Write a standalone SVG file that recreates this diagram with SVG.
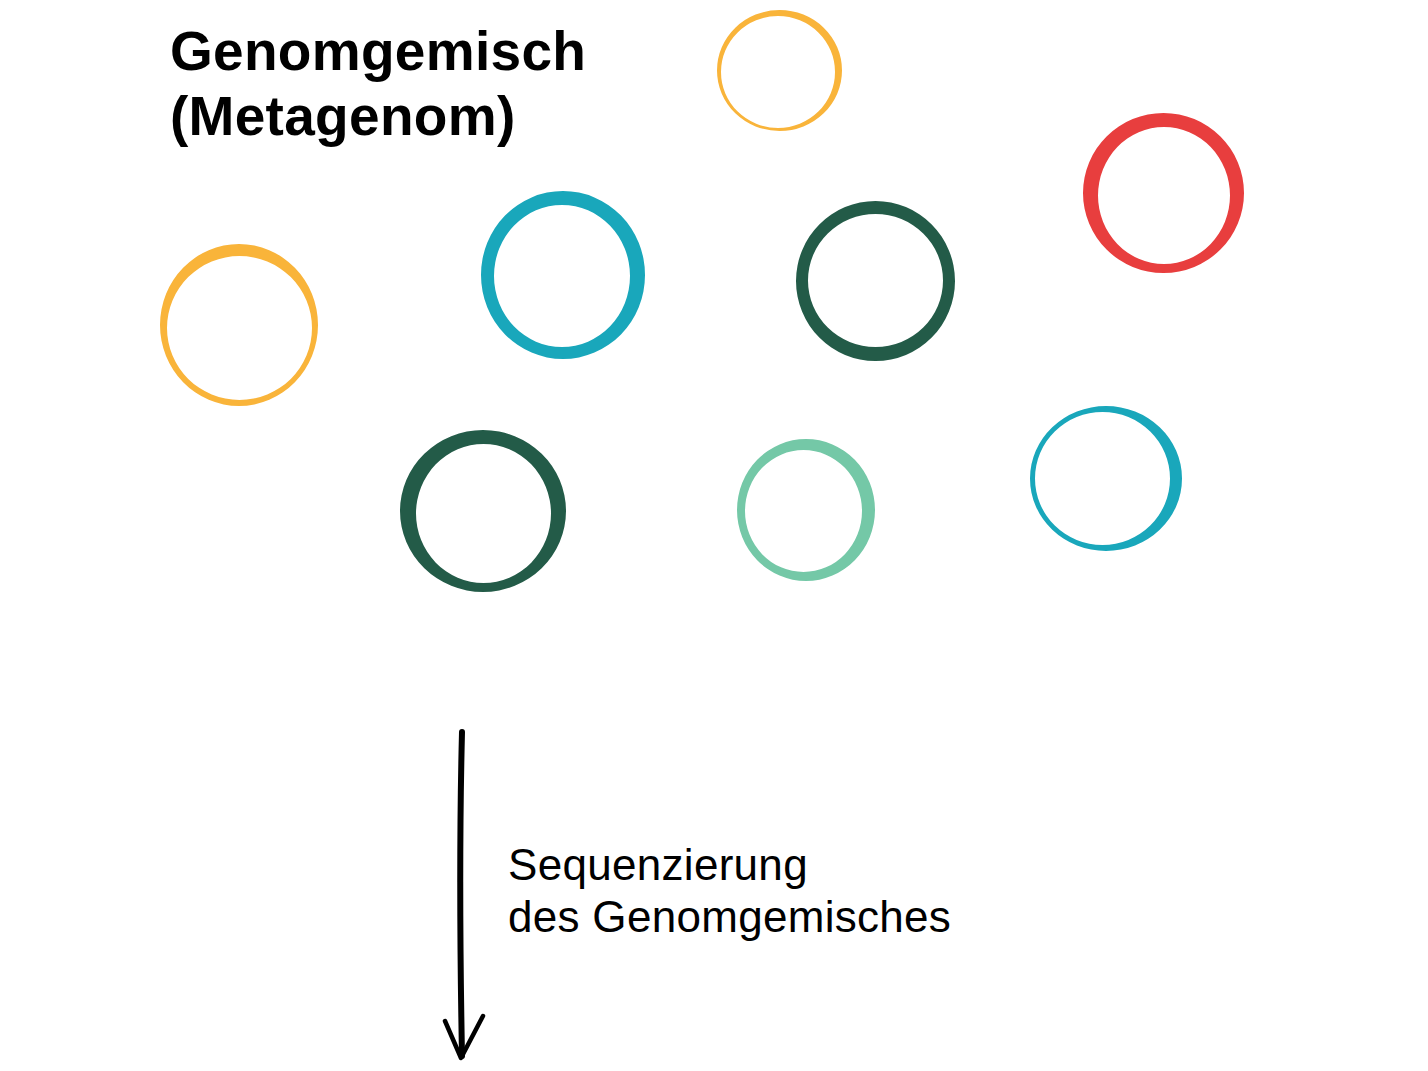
<svg xmlns="http://www.w3.org/2000/svg" width="1428" height="1071" viewBox="0 0 1428 1071">
<style>
.ring{fill-rule:evenodd;stroke:none}
.yellow{fill:#F9B43A}.red{fill:#E83E3E}.teal{fill:#19A7BB}.dark{fill:#235B48}.light{fill:#74C8A7}
.title{font-family:"Liberation Sans",Arial,sans-serif;font-weight:bold;font-size:55px;fill:#000;letter-spacing:0.3px}
.label{font-family:"Liberation Sans",Arial,sans-serif;font-size:44px;fill:#000;letter-spacing:0.3px}
.conn{fill:none;stroke:#000;stroke-linecap:round;stroke-linejoin:round}
</style>
<rect width="1428" height="1071" fill="#fff"/>
<g id="title">
<text class="title" x="170" y="70">Genomgemisch</text>
<text class="title" x="170" y="135">(Metagenom)</text>
</g>
<g id="genome-yellow-top"><path class="ring yellow" d="M717 70.5a62.5 60.5 0 1 0 125 0a62.5 60.5 0 1 0 -125 0Z M721 72a57 56 0 1 0 114 0a57 56 0 1 0 -114 0Z"/></g>
<g id="genome-red"><path class="ring red" d="M1083 193a80.5 80 0 1 0 161 0a80.5 80 0 1 0 -161 0Z M1098 195.5a66 68.5 0 1 0 132 0a66 68.5 0 1 0 -132 0Z"/></g>
<g id="genome-teal-mid"><path class="ring teal" d="M481 275a82 84 0 1 0 164 0a82 84 0 1 0 -164 0Z M494 276a68 71 0 1 0 136 0a68 71 0 1 0 -136 0Z"/></g>
<g id="genome-dark-upper"><path class="ring dark" d="M796 281a79.5 80 0 1 0 159 0a79.5 80 0 1 0 -159 0Z M808 280.5a67.5 66.5 0 1 0 135 0a67.5 66.5 0 1 0 -135 0Z"/></g>
<g id="genome-yellow-left"><path class="ring yellow" d="M160 325a79 81 0 1 0 158 0a79 81 0 1 0 -158 0Z M167 328a72.5 72 0 1 0 145 0a72.5 72 0 1 0 -145 0Z"/></g>
<g id="genome-dark-lower"><path class="ring dark" d="M400 511a83 81 0 1 0 166 0a83 81 0 1 0 -166 0Z M416 513.5a67.5 69.5 0 1 0 135 0a67.5 69.5 0 1 0 -135 0Z"/></g>
<g id="genome-light"><path class="ring light" d="M737 510a69 71 0 1 0 138 0a69 71 0 1 0 -138 0Z M745 511a58.5 61 0 1 0 117 0a58.5 61 0 1 0 -117 0Z"/></g>
<g id="genome-teal-right"><path class="ring teal" d="M1030 478.5a76 72.5 0 1 0 152 0a76 72.5 0 1 0 -152 0Z M1035 478.5a67.5 66.5 0 1 0 135 0a67.5 66.5 0 1 0 -135 0Z"/></g>
<g id="connectors">
<path class="conn" stroke-width="6" d="M462 732C459 850 460 950 462 1056"/>
<path class="conn" stroke-width="4.5" d="M445 1021L461 1058L483 1016"/>
</g>
<g id="step-label">
<text class="label" x="508" y="880">Sequenzierung</text>
<text class="label" x="508" y="932">des Genomgemisches</text>
</g>
</svg>
